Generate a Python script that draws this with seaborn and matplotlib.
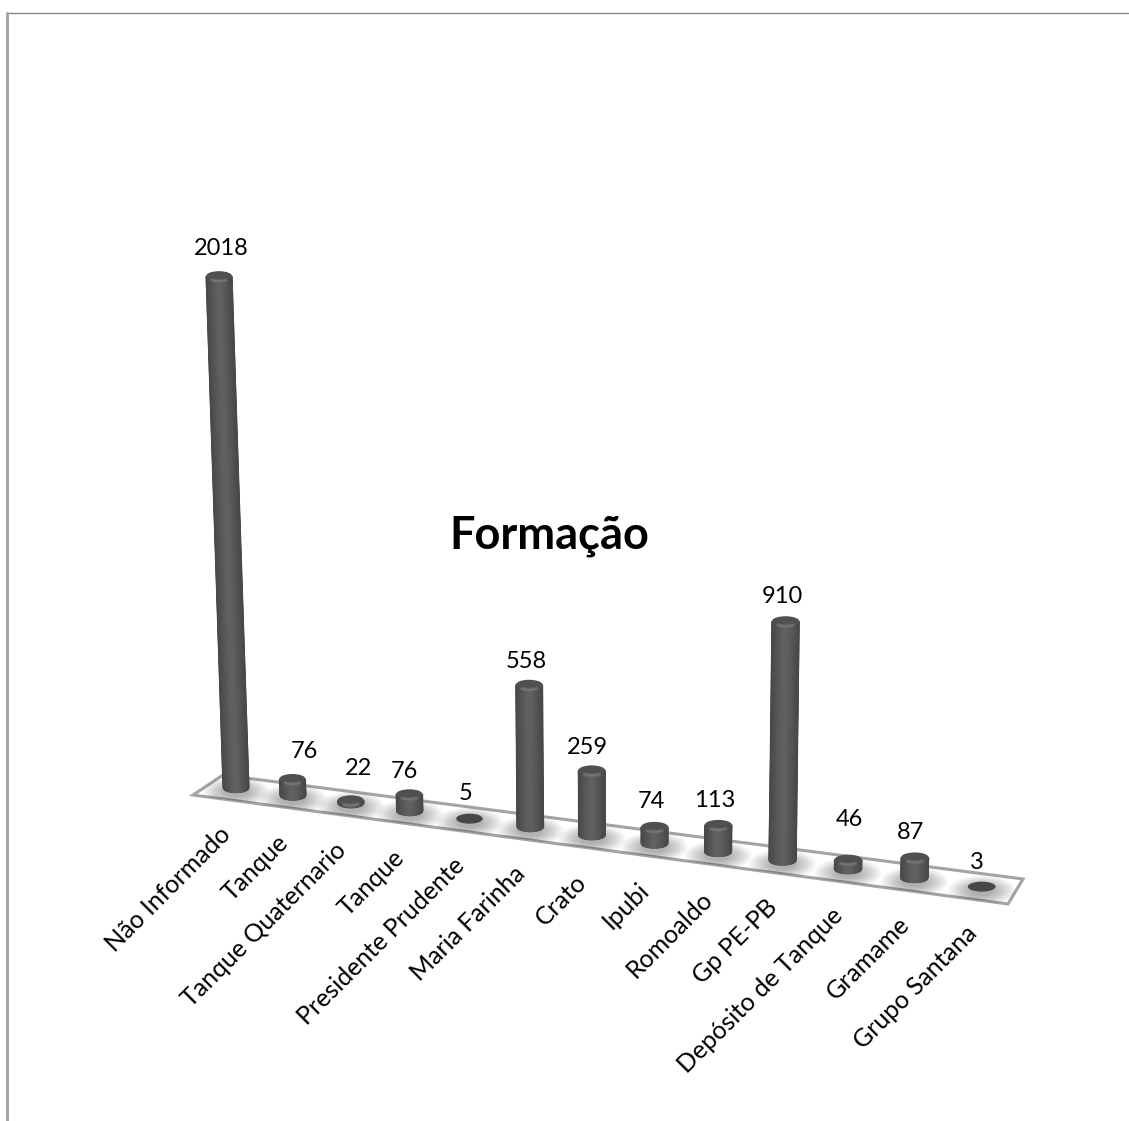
import numpy as np
import pandas as pd
import matplotlib
matplotlib.use("Agg")
import matplotlib.pyplot as plt
from matplotlib.colors import LinearSegmentedColormap
from matplotlib.patches import Ellipse, Polygon
from matplotlib.transforms import Affine2D, Transform
import seaborn as sns

# Stratigraphic units and well counts
formations = ["Não Informado", "Tanque", "Tanque Quaternario", "Tanque",
              "Presidente Prudente", "Maria Farinha", "Crato", "Ipubi",
              "Romoaldo", "Gp PE-PB", "Depósito de Tanque", "Gramame",
              "Grupo Santana"]
counts = [2018, 76, 22, 76, 5, 558, 259, 74, 113, 910, 46, 87, 3]

# Hand placement of value labels around the cylinder tops (pixels)
label_dx = [2, 12, 8, -5, -4, -3, -4, -3, -4, -3, 1, -4, -5]
label_gap = [26, 25, 30, 21, 23, 21, 21, 23, 22, 23, 38, 23, 22]

W, H = 1129, 1121
FONT = "Lato"
to_display = Affine2D().scale(1, -1).translate(0, H)


def center_x(i):
    return 236 + 56.5 * i + 0.47 * i ** 2


def base_y(i):
    return 787.7 + 0.1327 * (center_x(i) - 236)


def cyl_width(i):
    return 26 + 0.15 * i


def rise(i, v):
    # Pixel height of a value; the receding floor makes near columns taller
    stretch = 6 * (v / 2018) ** 2
    return np.maximum(0.0, (0.252 + 0.0014 * i) * v - 3 + stretch)


def lean(i, v):
    # Vertical edges converge towards a vanishing point above the chart
    return (-0.0084 + 0.0013 * i) * v


class FloorProjection(Transform):
    """Maps (category position, value) onto the tilted floor, in display pixels."""
    input_dims = output_dims = 2

    def transform_non_affine(self, values):
        values = np.asarray(values, dtype=float)
        idx = np.round(values[:, 0])
        u = (values[:, 0] - idx) / 0.4
        px = center_x(idx) + u * cyl_width(idx) / 2 + lean(idx, values[:, 1])
        py = base_y(idx) - rise(idx, values[:, 1])
        return np.column_stack([px, H - py])


sns.set_theme(style="white")
fig = plt.figure(figsize=(W / 100, H / 100), dpi=100)
ax = fig.add_axes([0, 0, 1, 1])

table = pd.DataFrame({"position": np.arange(len(formations)),
                      "formation": formations,
                      "wells": counts})
sns.barplot(data=table, x="position", y="wells", ax=ax, color="#525252",
            width=0.8, saturation=1, native_scale=True, zorder=4)
ax.set_xlim(-1, 13)
ax.set_ylim(0, 2500)
ax.autoscale(False)
ax.axis("off")

projection = FloorProjection()
px_space = to_display

# Frame remnants on the top and left
ax.add_line(plt.Line2D([7, W], [13, 13], color="#868686", lw=1.0, transform=px_space))
ax.add_line(plt.Line2D([7.2, 7.2], [13, H], color="#a6a6a6", lw=2.2, transform=px_space))

# Floor plate
corners = [(193, 795), (223, 775), (1023, 879), (1008, 904)]
plate = Polygon(corners, closed=True, fc="white", ec="#a3a3a3", lw=2.2,
                transform=px_space, zorder=1, joinstyle="miter")
ax.add_patch(plate)

body_cmap = LinearSegmentedColormap.from_list(
    "cyl", ["#484848", "#525252", "#5c5c5c", "#626262", "#5c5c5c", "#525252", "#484848"])

u = np.linspace(-1, 1, 41)
arc = np.sqrt(1 - u ** 2)
semi_b = 5.0

for bar, value in zip(ax.patches, counts):
    i = int(round(bar.get_x() + bar.get_width() / 2))
    bar.set_transform(projection)
    bar.set_edgecolor("none")

    w = cyl_width(i)
    cx0, cy0 = center_x(i), base_y(i)
    cx1, cy1 = cx0 + lean(i, value), cy0 - rise(i, value)

    # Soft contact shadow, trimmed to the plate
    for k in np.linspace(1, 0.35, 14):
        blob = Ellipse((cx0, cy0 + 4), 68 * k, 30 * k, fc="black", ec="none",
                       alpha=0.024, transform=px_space, zorder=2)
        ax.add_patch(blob)
        blob.set_clip_path(Polygon(corners, closed=True, transform=px_space))

    # Cylinder wall
    if rise(i, value) > 0:
        xs = np.vstack([cx0 + u * w / 2, cx1 + u * w / 2])
        ys = np.vstack([cy0 + semi_b * arc, cy1 + semi_b * arc])
        shade = np.vstack([u, u])
        ax.pcolormesh(xs, ys, shade, cmap=body_cmap, vmin=-1, vmax=1,
                      shading="gouraud", transform=px_space, zorder=5)

    # Top cap with a bevel highlight along its front rim
    cap_fc = "#505050" if rise(i, value) > 0 else "#484848"
    ax.add_patch(Ellipse((cx1, cy1), w, 2 * semi_b, fc=cap_fc, ec="none",
                         transform=px_space, zorder=6))
    if rise(i, value) > 2:
        band = np.linspace(-0.55, 0.55, 25)
        bx = cx1 + band * w / 2
        by = cy1 + semi_b * np.sqrt(1 - band ** 2) - 0.4
        for lw, alpha in [(3.0, 0.05), (2.0, 0.07), (1.0, 0.1)]:
            ax.plot(bx, by, color="white", lw=lw, alpha=alpha, solid_capstyle="round",
                    transform=px_space, zorder=7)

    # Value label
    ax.text(cx1 + label_dx[i], cy1 - semi_b - label_gap[i] + 3, str(value),
            ha="center", va="center", fontsize=17, family=FONT, color="black",
            transform=px_space, zorder=8)

    # Category label
    ax.text(cx0 - 17, cy0 + 35, formations[i], rotation=45, rotation_mode="anchor",
            ha="right", va="top", fontsize=18, family=FONT, color="black",
            transform=px_space, zorder=8)

ax.text(549, 536, "Formação", ha="center", va="center", fontsize=32.5, fontweight="bold",
        family=FONT, color="black", transform=px_space, zorder=8)

fig.savefig("out.png", dpi=100, facecolor="white")
